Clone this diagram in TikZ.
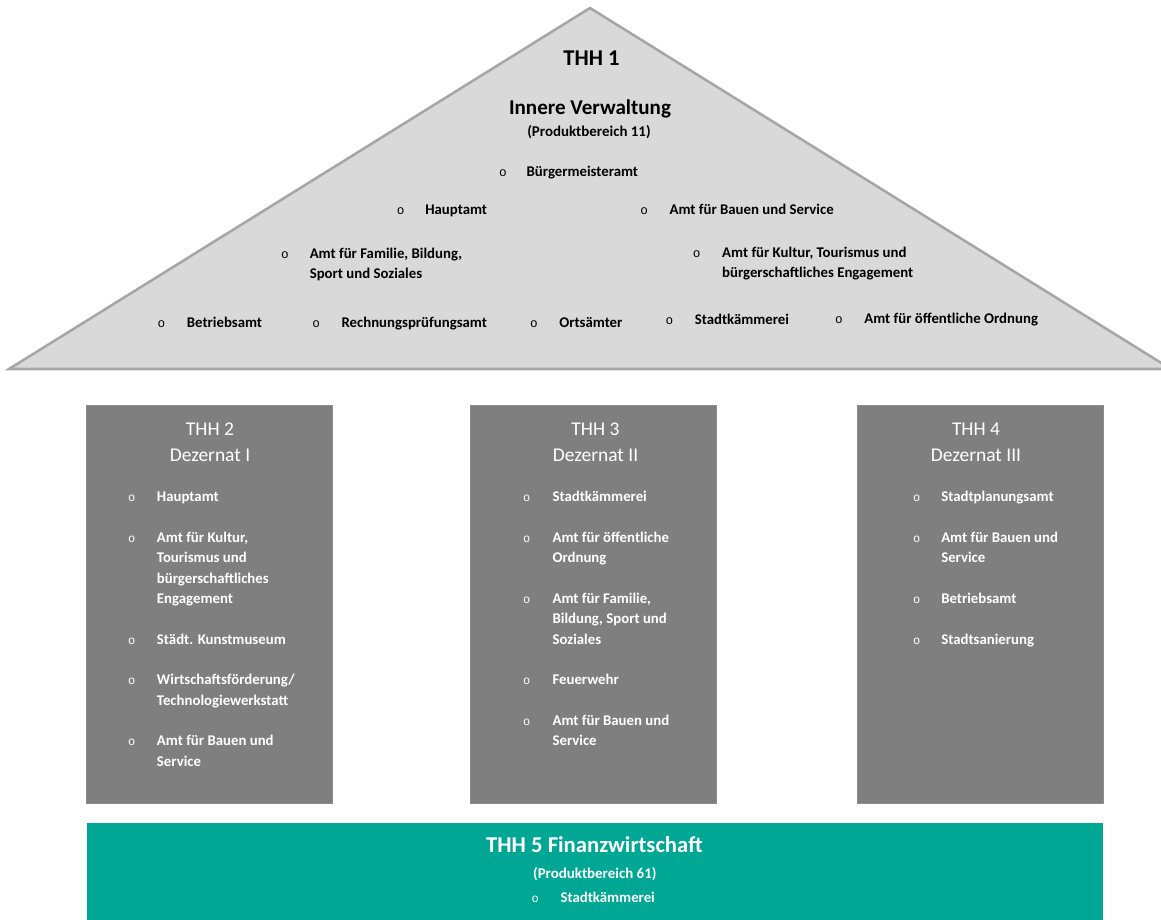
\documentclass[tikz,border=0pt]{standalone}
\usepackage{fontspec}
\setmainfont{Carlito}
\newfontfamily\bulletfont{Liberation Mono}
\definecolor{roofgray}{HTML}{D9D9D9}
\definecolor{roofedge}{HTML}{A6A6A6}
\definecolor{boxgray}{HTML}{7F7F7F}
\definecolor{boxedge}{HTML}{8C8C8C}
\definecolor{teal}{RGB}{0,167,149}
% stacked lines, aligned on the baseline of the first line
\newcommand\lns[1]{\begin{tabular}[t]{@{}l@{}}#1\end{tabular}}
\newcommand\clns[1]{\begin{tabular}[t]{@{}c@{}}#1\end{tabular}}
\tikzset{
  roof/.style={fill=roofgray, draw=roofedge, line width=1.9pt, line join=miter},
  dezbox/.style={fill=boxgray, draw=boxedge, line width=0.5pt},
  finbox/.style={fill=teal, draw=none},
  rooftitle/.style={inner sep=0, anchor=base, font=\bfseries\fontsize{16.9}{20}\selectfont},
  roofsub/.style={inner sep=0, anchor=base, font=\bfseries\fontsize{15.8}{18}\selectfont},
  roofnote/.style={inner sep=0, anchor=base, font=\bfseries\fontsize{11.2}{14}\selectfont},
  roofitem/.style={inner sep=0, anchor=base west, font=\bfseries\fontsize{11.1}{15.2}\selectfont},
  roofbul/.style={inner sep=0, anchor=base, font=\bulletfont\fontsize{9.5}{12}\selectfont},
  boxtitle/.style={inner sep=0, anchor=base, text=white, font=\fontsize{14.6}{20}\selectfont},
  boxitem/.style={inner sep=0, anchor=base west, text=white, font=\bfseries\fontsize{11.1}{15.26}\selectfont},
  boxbul/.style={inner sep=0, anchor=base, text=white, font=\bulletfont\fontsize{9}{12}\selectfont},
  fintitle/.style={inner sep=0, anchor=base, text=white, font=\bfseries\fontsize{17}{20}\selectfont},
  finnote/.style={inner sep=0, anchor=base, text=white, font=\bfseries\fontsize{11.2}{14}\selectfont},
  finitem/.style={inner sep=0, anchor=base west, text=white, font=\bfseries\fontsize{11.1}{14}\selectfont},
}
\begin{document}
\begin{tikzpicture}[x=0.75pt, y=-0.75pt]
\useasboundingbox (0,0) rectangle (1161,920);
\begin{scope}
  \clip (0,0) rectangle (1161,920);
  % roof: THH 1
  \draw[roof] (9,369) -- (590,8) -- (1171,369) -- cycle;
\end{scope}
\node[rooftitle] (t1) at (591.5,65.6) {THH 1};
\node[roofsub] (t1sub) at (590,114.5) {Innere Verwaltung};
\node[roofnote] (t1pb) at (589,137) {(Produktbereich 11)};

\node[roofbul] (rb1) at (503,176.5) {o};
\node[roofitem] (ri1) at (526.4,176.5) {Bürgermeisteramt};
\node[roofbul] (rb2) at (400.6,214.5) {o};
\node[roofitem] (ri2) at (425,214.5) {Hauptamt};
\node[roofbul] (rb3) at (644.2,214.5) {o};
\node[roofitem] (ri3) at (669.3,214.5) {Amt für Bauen und Service};
\node[roofbul] (rb4) at (285,258) {o};
\node[roofitem] (ri4) at (309.5,258) {\lns{Amt für Familie, Bildung,\\Sport und Soziales}};
\node[roofbul] (rb5) at (696.7,257.2) {o};
\node[roofitem] (ri5) at (721.9,257.2) {\lns{Amt für Kultur, Tourismus und\\bürgerschaftliches Engagement}};
\node[roofbul] (rb6) at (161.4,327.8) {o};
\node[roofitem] (ri6) at (186.6,327.8) {Betriebsamt};
\node[roofbul] (rb7) at (316.2,327.8) {o};
\node[roofitem] (ri7) at (341.3,327.8) {Rechnungsprüfungsamt};
\node[roofbul] (rb8) at (533.8,327.8) {o};
\node[roofitem] (ri8) at (559,327.8) {Ortsämter};
\node[roofbul] (rb9) at (669.3,324.5) {o};
\node[roofitem] (ri9) at (694.5,324.5) {Stadtkämmerei};
\node[roofbul] (rb10) at (838.9,323.5) {o};
\node[roofitem] (ri10) at (864.1,323.5) {Amt für öffentliche Ordnung};

% THH 2: Dezernat I
\path[dezbox] (86.5,405) rectangle (332.5,803.5);
\node[boxtitle] (t2) at (210,435) {\clns{THH 2\\Dezernat I}};
\node[boxbul] (ab1) at (131.7,501.7) {o};
\node[boxitem] (ai1) at (156.7,501.7) {Hauptamt};
\node[boxbul] (ab2) at (131.7,542.4) {o};
\node[boxitem] (ai2) at (156.7,542.4) {\lns{Amt für Kultur,\\Tourismus und\\bürgerschaftliches\\Engagement}};
\node[boxbul] (ab3) at (131.7,644.15) {o};
\node[boxitem] (ai3) at (156.7,644.15) {Städt. Kunstmuseum};
\node[boxbul] (ab4) at (131.7,684.85) {o};
\node[boxitem] (ai4) at (156.7,684.85) {\lns{Wirtschaftsförderung/\\Technologiewerkstatt}};
\node[boxbul] (ab5) at (131.7,745.9) {o};
\node[boxitem] (ai5) at (156.7,745.9) {\lns{Amt für Bauen und\\Service}};

% THH 3: Dezernat II
\path[dezbox] (470,405) rectangle (716.5,803.5);
\node[boxtitle] (t3) at (595.5,435) {\clns{THH 3\\Dezernat II}};
\node[boxbul] (bb1) at (526.7,501.7) {o};
\node[boxitem] (bi1) at (552.3,501.7) {Stadtkämmerei};
\node[boxbul] (bb2) at (526.7,542.4) {o};
\node[boxitem] (bi2) at (552.3,542.4) {\lns{Amt für öffentliche\\Ordnung}};
\node[boxbul] (bb3) at (526.7,603.45) {o};
\node[boxitem] (bi3) at (552.3,603.45) {\lns{Amt für Familie,\\Bildung, Sport und\\Soziales}};
\node[boxbul] (bb4) at (526.7,684.85) {o};
\node[boxitem] (bi4) at (552.3,684.85) {Feuerwehr};
\node[boxbul] (bb5) at (526.7,725.55) {o};
\node[boxitem] (bi5) at (552.3,725.55) {\lns{Amt für Bauen und\\Service}};

% THH 4: Dezernat III
\path[dezbox] (857,405) rectangle (1103.3,803.5);
\node[boxtitle] (t4) at (976,435) {\clns{THH 4\\Dezernat III}};
\node[boxbul] (cb1) at (916.7,501.7) {o};
\node[boxitem] (ci1) at (941,501.7) {Stadtplanungsamt};
\node[boxbul] (cb2) at (916.7,542.4) {o};
\node[boxitem] (ci2) at (941,542.4) {\lns{Amt für Bauen und\\Service}};
\node[boxbul] (cb3) at (916.7,603.45) {o};
\node[boxitem] (ci3) at (941,603.45) {Betriebsamt};
\node[boxbul] (cb4) at (916.7,644.15) {o};
\node[boxitem] (ci4) at (941,644.15) {Stadtsanierung};

% THH 5: Finanzwirtschaft
\path[finbox] (86.6,823.3) rectangle (1102.5,925);
\node[fintitle] (t5) at (594.4,852.7) {THH 5 Finanzwirtschaft};
\node[finnote] (t5pb) at (594.8,878.3) {(Produktbereich 61)};
\node[boxbul] (db1) at (535.3,902.3) {o};
\node[finitem] (di1) at (560.3,902.3) {Stadtkämmerei};
\end{tikzpicture}
\end{document}
